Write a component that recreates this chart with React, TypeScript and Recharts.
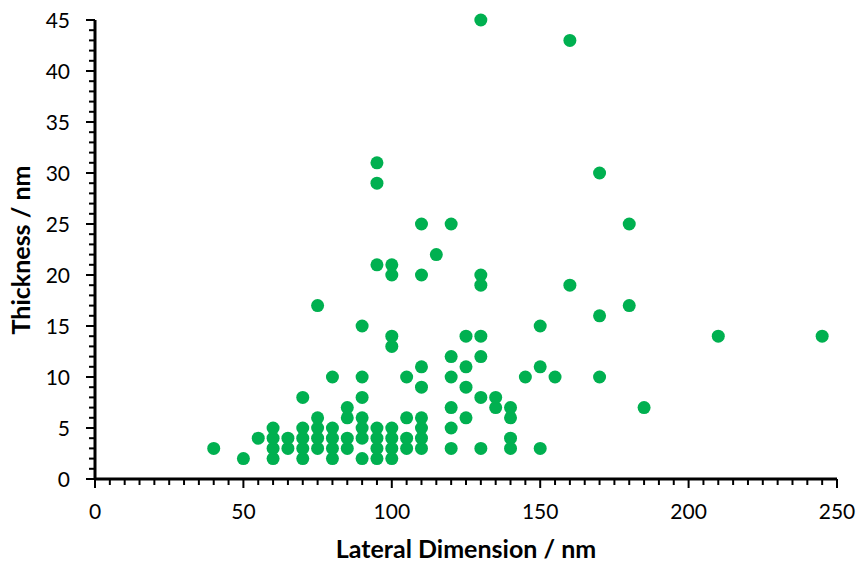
import React from 'react';
import { ScatterChart, Scatter, XAxis, YAxis, Label } from 'recharts';

// Lateral dimension (nm) and thickness (nm) of each flake, paired by index
const lateral = [
  40, 50, 55,
  60, 60, 60, 60,
  65, 65,
  70, 70, 70, 70, 70,
  75, 75, 75, 75, 75,
  80, 80, 80, 80, 80,
  85, 85, 85, 85,
  90, 90, 90, 90, 90, 90, 90,
  95, 95, 95, 95, 95, 95, 95,
  100, 100, 100, 100, 100, 100, 100, 100,
  105, 105, 105, 105,
  110, 110, 110, 110, 110, 110, 110, 110,
  115,
  120, 120, 120, 120, 120, 120,
  125, 125, 125, 125,
  130, 130, 130, 130, 130, 130, 130,
  135, 135,
  140, 140, 140, 140,
  145,
  150, 150, 150,
  155,
  160, 160,
  170, 170, 170,
  180, 180,
  185, 210, 245,
];
const thickness = [
  3, 2, 4,
  2, 3, 4, 5,
  3, 4,
  2, 3, 4, 5, 8,
  3, 4, 5, 6, 17,
  2, 3, 4, 5, 10,
  3, 4, 6, 7,
  2, 4, 5, 6, 8, 10, 15,
  2, 3, 4, 5, 21, 29, 31,
  2, 3, 4, 5, 13, 14, 20, 21,
  3, 4, 6, 10,
  3, 4, 5, 6, 9, 11, 20, 25,
  22,
  3, 5, 7, 10, 12, 25,
  6, 9, 11, 14,
  3, 8, 12, 14, 19, 20, 45,
  7, 8,
  3, 4, 6, 7,
  10,
  3, 11, 15,
  10,
  19, 43,
  10, 16, 30,
  17, 25,
  7, 14, 14,
];

const xMajorTicks = [0, 50, 100, 150, 200, 250];
const yMajorTicks = [0, 5, 10, 15, 20, 25, 30, 35, 40, 45];
const xMinorStep = 5;
const yMinorStep = 1;
const xTitle = 'Lateral Dimension / nm';
const yTitle = 'Thickness / nm';

const data = lateral.map((x, i) => ({ x, y: thickness[i] }));

const range = (min: number, max: number, step: number) => {
  const out: number[] = [];
  for (let v = min; v <= max + 1e-9; v += step) out.push(v);
  return out;
};
const xTicks = range(xMajorTicks[0], xMajorTicks[xMajorTicks.length - 1], xMinorStep);
const yTicks = range(yMajorTicks[0], yMajorTicks[yMajorTicks.length - 1], yMinorStep);

const FONT = 'Lato, "Open Sans", sans-serif';
const GREEN = '#00B050';

const XTick = (props: any) => {
  const { x, y, payload } = props;
  const v = payload.value;
  const major = xMajorTicks.includes(v);
  return (
    <g>
      <line x1={x} x2={x} y1={y} y2={y + (major ? 9 : 6)} stroke="#000" strokeWidth={2} />
      {major && (
        <text x={x} y={y + 40} textAnchor="middle" fontFamily={FONT} fontSize={21} fill="#000">
          {v}
        </text>
      )}
    </g>
  );
};

const YTick = (props: any) => {
  const { x, y, payload } = props;
  const v = payload.value;
  const major = yMajorTicks.includes(v);
  return (
    <g>
      <line x1={x - (major ? 9 : 6)} x2={x} y1={y} y2={y} stroke="#000" strokeWidth={2} />
      {major && (
        <text x={x - 25} y={y + 7.5} textAnchor="end" fontFamily={FONT} fontSize={21} fill="#000">
          {v}
        </text>
      )}
    </g>
  );
};

const Dot = (props: any) => {
  const { cx, cy } = props;
  return <circle cx={cx} cy={cy} r={6.5} fill={GREEN} />;
};

export default function App() {
  return (
    <div style={{ position: 'absolute', left: 0, top: 0, background: '#fff' }}>
      <ScatterChart width={861} height={568} margin={{ top: 20, right: 24, left: 0, bottom: 0 }}>
        <XAxis
          type="number"
          dataKey="x"
          domain={[0, 250]}
          ticks={xTicks}
          interval={0}
          height={89}
          tickSize={0}
          tickMargin={0}
          tickLine={false}
          tick={<XTick />}
          axisLine={{ stroke: '#000', strokeWidth: 3 }}
        >
          <Label
            content={() => (
              <text x={466} y={558} textAnchor="middle" fontFamily={FONT} fontWeight="bold" fontSize={25} fill="#000">
                {xTitle}
              </text>
            )}
          />
        </XAxis>
        <YAxis
          type="number"
          dataKey="y"
          domain={[0, 45]}
          ticks={yTicks}
          interval={0}
          width={95}
          tickSize={0}
          tickMargin={0}
          tickLine={false}
          tick={<YTick />}
          axisLine={{ stroke: '#000', strokeWidth: 3 }}
        >
          <Label
            content={() => (
              <text
                x={30}
                y={250}
                transform="rotate(-90 30 250)"
                textAnchor="middle"
                fontFamily={FONT}
                fontWeight="bold"
                fontSize={25}
                fill="#000"
              >
                {yTitle}
              </text>
            )}
          />
        </YAxis>
        <Scatter data={data} shape={<Dot />} isAnimationActive={false} />
      </ScatterChart>
    </div>
  );
}
